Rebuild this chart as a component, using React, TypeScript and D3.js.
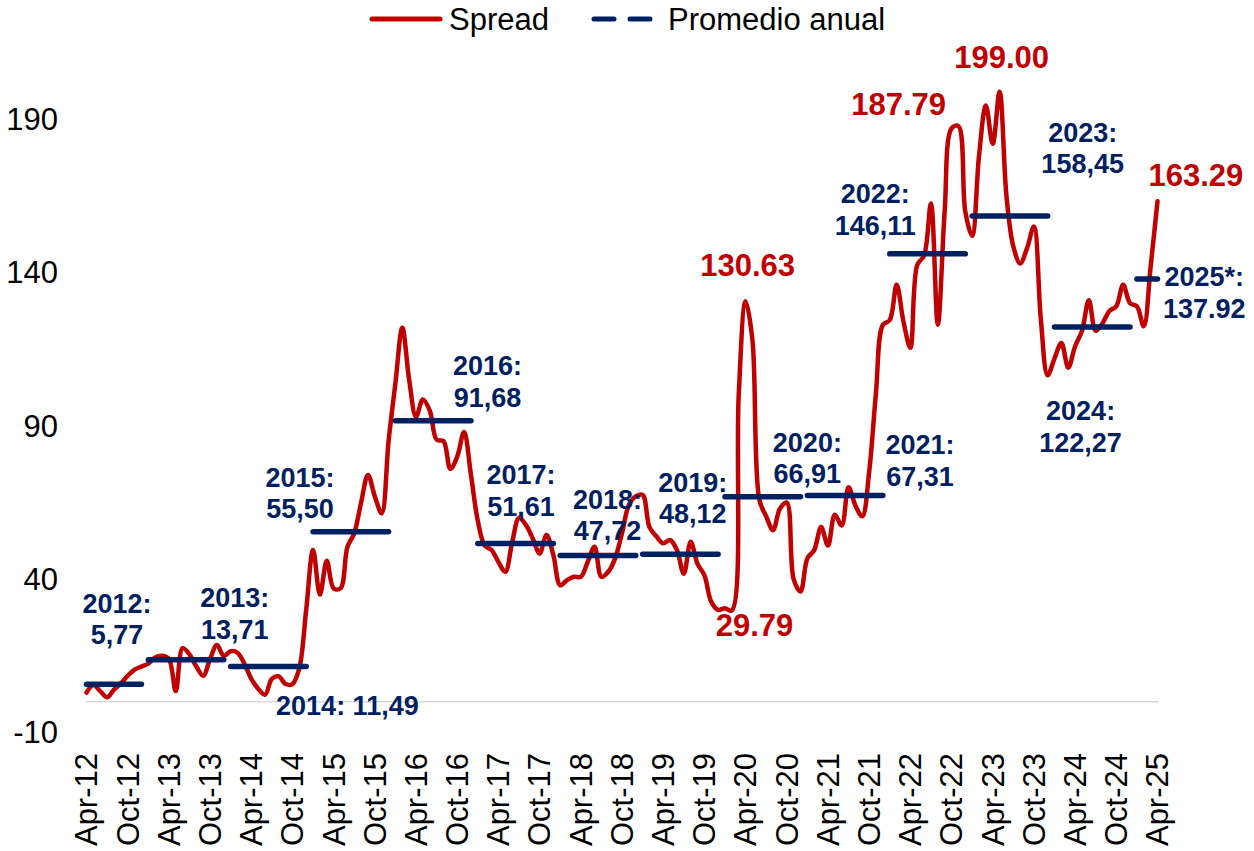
import React from 'react';
import * as d3 from 'd3';

// Monthly spread values (Apr-12 .. Apr-25)
const spread2012 = [3, 5.5, 3.5, 1.5, 4, 6, 8.5, 10.5, 11.5];
const spread2013 = [12.5, 14.5, 15, 14, 3.5, 17.5, 15.5, 11.5, 8.5, 14, 18.5, 15];
const spread2014 = [16.5, 16, 12.4, 7.5, 4.3, 2.3, 7.5, 8.3, 5.8, 5.8, 11, 30];
const spread2015 = [49.5, 35, 46, 37, 37, 50.5, 55, 65, 74, 67, 61.5, 85];
const spread2016 = [104, 122, 105, 93, 98.6, 95, 85.5, 85, 76, 80, 88, 74];
const spread2017 = [59, 51, 49.5, 45.6, 42.4, 52, 60, 57.7, 53.3, 48.4, 54.4, 47.9];
const spread2018 = [38, 39.7, 40.8, 40.8, 45.6, 50.6, 40.8, 42.4, 46.8, 55, 64.2, 67];
const spread2019 = [67.5, 57, 54, 51.7, 52.8, 49.5, 41.8, 52.2, 45, 41.3, 32.6, 30];
const spread2020 = [30.5, 29.79, 100, 130.63, 118, 66, 60.5, 56, 63, 65, 40, 36];
const spread2021 = [46.8, 49.5, 57, 51, 61, 57.5, 70, 64, 60.5, 75, 101, 123];
const spread2022 = [124.5, 136, 124, 115.5, 142.5, 145.5, 162.5, 123, 160, 187, 187.79, 160];
const spread2023 = [152, 178, 194.5, 182, 199, 165, 148.5, 143, 148, 155, 125, 106.5];
const spread2024 = [112, 117, 109, 116, 121, 131, 121, 123.5, 127.5, 129, 136, 130];
const spread2025 = [129, 122.5, 142, 163.29];

const spreadByYear = [
  spread2012, spread2013, spread2014, spread2015, spread2016, spread2017, spread2018,
  spread2019, spread2020, spread2021, spread2022, spread2023, spread2024, spread2025,
];
const spread: number[] = spreadByYear.flat();

const tickLabels = [
  'Apr-12', 'Oct-12', 'Apr-13', 'Oct-13', 'Apr-14', 'Oct-14', 'Apr-15', 'Oct-15', 'Apr-16',
  'Oct-16', 'Apr-17', 'Oct-17', 'Apr-18', 'Oct-18', 'Apr-19', 'Oct-19', 'Apr-20', 'Oct-20',
  'Apr-21', 'Oct-21', 'Apr-22', 'Oct-22', 'Apr-23', 'Oct-23', 'Apr-24', 'Oct-24', 'Apr-25',
];
const yTicks = [-10, 40, 90, 140, 190];

const avgYears = ['2012', '2013', '2014', '2015', '2016', '2017', '2018', '2019', '2020', '2021', '2022', '2023', '2024', '2025*'];
const avgValues = [5.77, 13.71, 11.49, 55.5, 91.68, 51.61, 47.72, 48.12, 66.91, 67.31, 146.11, 158.45, 122.27, 137.92];
const avgTexts = ['5,77', '13,71', '11,49', '55,50', '91,68', '51,61', '47,72', '48,12', '66,91', '67,31', '146,11', '158,45', '122,27', '137.92'];

const highlightTexts = ['130.63', '29.79', '187.79', '199.00', '163.29'];

// label placement (data space: month index, value of baseline)
const avgLabelPlace: { i: number; v: number; single?: boolean }[] = [
  { i: 4.45, v: 29.0 },
  { i: 21.6, v: 30.9 },
  { i: 38.0, v: -4.3, single: true },
  { i: 31.1, v: 70.1 },
  { i: 58.4, v: 106.6 },
  { i: 63.3, v: 71.0 },
  { i: 75.9, v: 63.0 },
  { i: 88.3, v: 68.5 },
  { i: 105.0, v: 81.5 },
  { i: 121.4, v: 80.8 },
  { i: 114.9, v: 162.7 },
  { i: 145.1, v: 182.6 },
  { i: 144.8, v: 91.9 },
  { i: 162.8, v: 135.6 },
];
const highlightPlace = [
  { i: 96.3, v: 138.9 },
  { i: 97.3, v: 21.5 },
  { i: 118.3, v: 191.4 },
  { i: 133.3, v: 206.7 },
  { i: 161.6, v: 168.3 },
];

const RED = '#C00000';
const NAVY = '#002060';
const FONT = '"Liberation Sans", Arial, Helvetica, sans-serif';

export default function App() {
  const W = 1254;
  const H = 851;
  const x = d3.scaleLinear().domain([0, spread.length - 1]).range([86.5, 1157.5]);
  const y = d3.scaleLinear().domain([-10, 190]).range([732.5, 119.3]);

  const line = d3
    .line<number>()
    .x((_, i) => x(i))
    .y((d) => y(d))
    .curve(d3.curveCatmullRom.alpha(0.5));

  const yearRanges = avgYears.map((_, k) => {
    const start = k === 0 ? 0 : 9 + 12 * (k - 1);
    const end = Math.min(k === 0 ? 8 : start + 11, spread.length - 1);
    return [start, end];
  });

  return (
    <svg width={W} height={H} style={{ position: 'absolute', left: 0, top: 0, background: '#fff' }} fontFamily={FONT}>
      {/* zero axis */}
      <line x1={x(0) - 1.5} x2={x(spread.length - 1) + 1.5} y1={y(0)} y2={y(0)} stroke="#D9D9D9" strokeWidth={1.5} />
      {/* y tick labels */}
      {yTicks.map((t) => (
        <text key={t} x={58} y={y(t)} dy="0.35em" textAnchor="end" fontSize={31} fill="#000">
          {t}
        </text>
      ))}
      {/* x tick labels */}
      {tickLabels.map((t, k) => {
        const xi = x(k * 6);
        return (
          <text key={t} transform={`translate(${xi},753) rotate(-90)`} dy="0.35em" textAnchor="end" fontSize={31} fill="#000">
            {t}
          </text>
        );
      })}
      {/* spread line */}
      <path d={line(spread) || ''} fill="none" stroke={RED} strokeWidth={4.5} strokeLinejoin="round" strokeLinecap="round" />
      {/* annual averages */}
      {avgValues.map((v, k) => (
        <line
          key={avgYears[k]}
          x1={x(yearRanges[k][0])}
          x2={x(yearRanges[k][1])}
          y1={y(v)}
          y2={y(v)}
          stroke={NAVY}
          strokeWidth={5.5}
          strokeLinecap="round"
        />
      ))}
      {/* average labels */}
      {avgYears.map((yr, k) => {
        const p = avgLabelPlace[k];
        const cx = x(p.i);
        const by = y(p.v);
        if (p.single) {
          return (
            <text key={yr} x={cx} y={by} textAnchor="middle" fontSize={27} fontWeight="bold" fill={NAVY}>
              {`${yr}: ${avgTexts[k]}`}
            </text>
          );
        }
        return (
          <text key={yr} x={cx} y={by} textAnchor="middle" fontSize={27} fontWeight="bold" fill={NAVY}>
            <tspan x={cx}>{`${yr}:`}</tspan>
            <tspan x={cx} dy={31.5}>{avgTexts[k]}</tspan>
          </text>
        );
      })}
      {/* highlight labels */}
      {highlightTexts.map((t, k) => (
        <text key={t} x={x(highlightPlace[k].i)} y={y(highlightPlace[k].v)} textAnchor="middle" fontSize={31} fontWeight="bold" fill={RED}>
          {t}
        </text>
      ))}
      {/* legend */}
      <line x1={372} x2={440} y1={19} y2={19} stroke={RED} strokeWidth={5} strokeLinecap="round" />
      <text x={449} y={29.5} fontSize={31} fill="#000">Spread</text>
      <line x1={594} x2={660} y1={19} y2={19} stroke={NAVY} strokeWidth={5} strokeDasharray="20,16" strokeLinecap="round" />
      <text x={668} y={29.5} fontSize={31} fill="#000">Promedio anual</text>
    </svg>
  );
}
